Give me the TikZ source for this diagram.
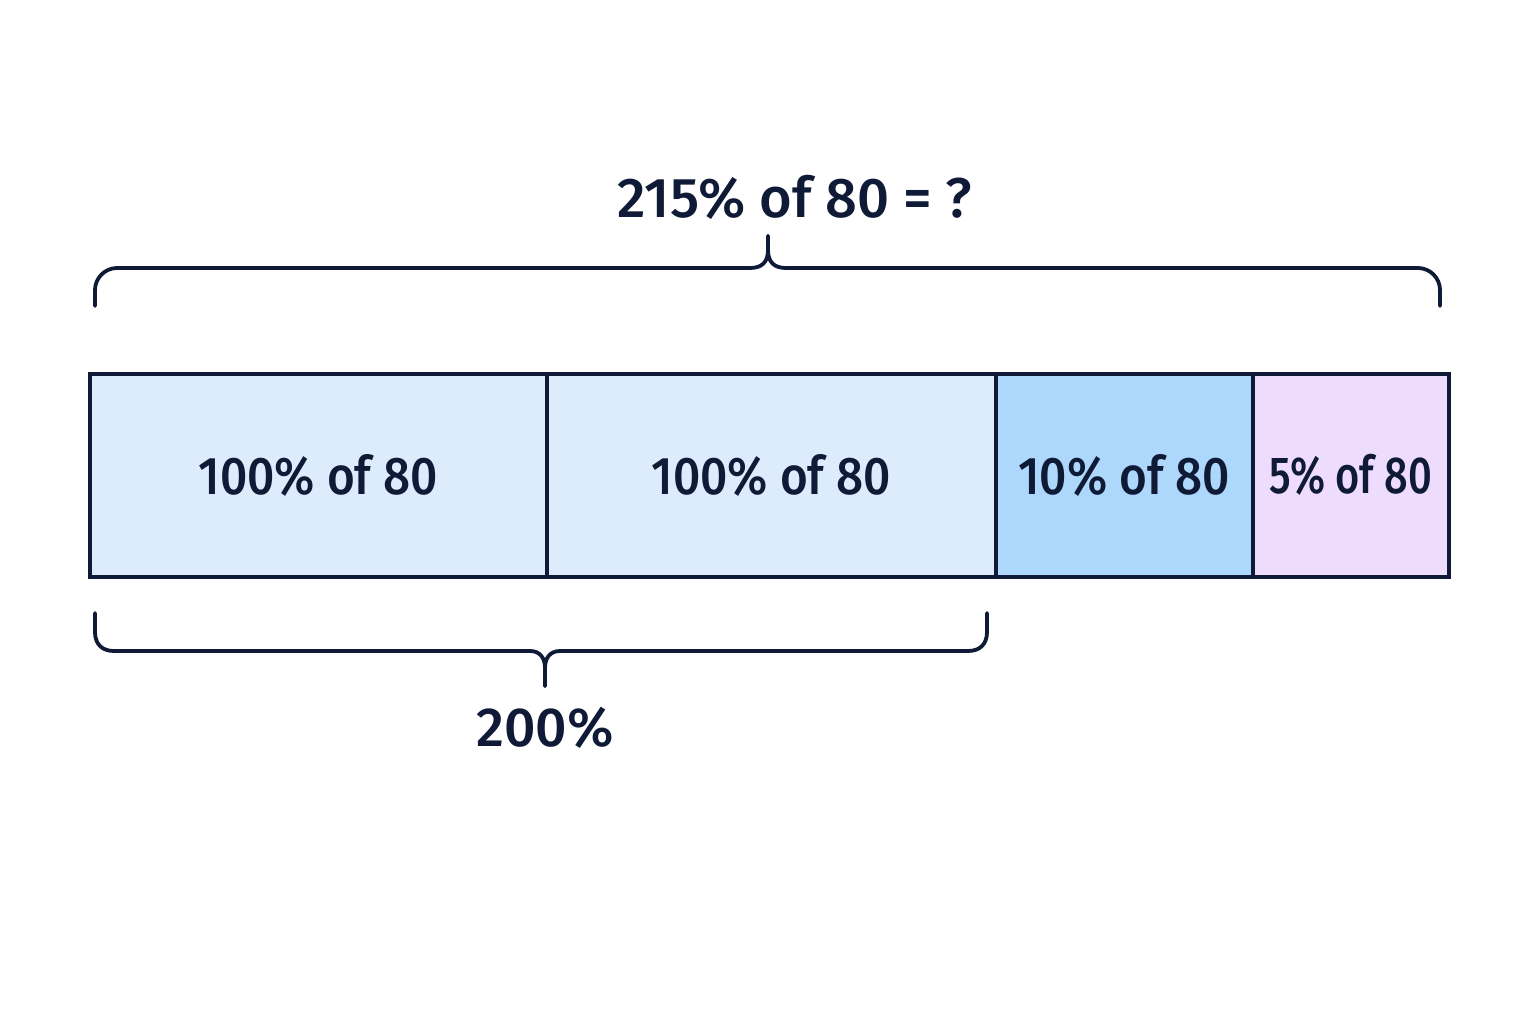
\documentclass[tikz,border=0pt]{standalone}
\usepackage{fontspec}
\setmainfont{Fira Sans}[UprightFont={* Medium}]
\newfontfamily\cellfont{Fira Sans}[UprightFont={* Medium}, FakeStretch=0.9]
\newfontfamily\narrowcellfont{Fira Sans}[UprightFont={* Medium}, FakeStretch=0.8]
\definecolor{ink}{HTML}{0E1A36}
\definecolor{lightblue}{HTML}{DCECFC}
\definecolor{midblue}{HTML}{ADD8FC}
\definecolor{lavender}{HTML}{EEDCFC}
\begin{document}
\begin{tikzpicture}[x=1pt,y=-1pt,
  cell/.style={draw=ink, line width=3.5pt, anchor=north west, minimum height=203pt, inner sep=0pt, text=ink, font=\cellfont\fontsize{53}{60}\selectfont},
  brace/.style={draw=ink, line width=3.8pt, line cap=round, line join=round},
  lbl/.style={text=ink, font=\fontsize{55}{64}\selectfont, inner sep=0pt}]
\useasboundingbox[fill=white] (0,0) rectangle (1536,1024);
% bar cells
\node[cell, fill=lightblue, minimum width=457pt] (c1) at (88,372) {100\% of 80};
\node[cell, fill=lightblue, minimum width=449pt] (c2) at (545,372) {100\% of 80};
\node[cell, fill=midblue, minimum width=257pt] (c3) at (994,372) {10\% of 80};
\node[cell, fill=lavender, minimum width=196pt, font=\narrowcellfont\fontsize{52}{60}\selectfont] (c4) at (1251,372) {5\% of 80};
% top brace
\coordinate (tL) at (95,306);
\coordinate (tR) at (1440,306);
\coordinate (tT) at (768,236);
\draw[brace] (tL) -- (95,290) .. controls (95,278) and (105,268) .. (117,268) -- (750,268)
  .. controls (762,268) and (768,262) .. (768,250) -- (tT);
\draw[brace] (tR) -- (1440,290) .. controls (1440,278) and (1430,268) .. (1418,268) -- (786,268)
  .. controls (774,268) and (768,262) .. (768,250) -- (tT);
\node[lbl, font=\fontsize{56}{64}\selectfont] (title) at (795,197) {215\% of 80 = ?};
% bottom brace
\coordinate (bL) at (95,613);
\coordinate (bR) at (987,613);
\coordinate (bT) at (545,686);
\draw[brace] (bL) -- (95,632) .. controls (95,644) and (102,651) .. (114,651) -- (530,651)
  .. controls (540,651) and (545,658) .. (545,668) -- (bT);
\draw[brace] (bR) -- (987,632) .. controls (987,644) and (980,651) .. (968,651) -- (560,651)
  .. controls (550,651) and (545,658) .. (545,668) -- (bT);
\node[lbl] (sum) at (545,728) {200\%};
\end{tikzpicture}
\end{document}
